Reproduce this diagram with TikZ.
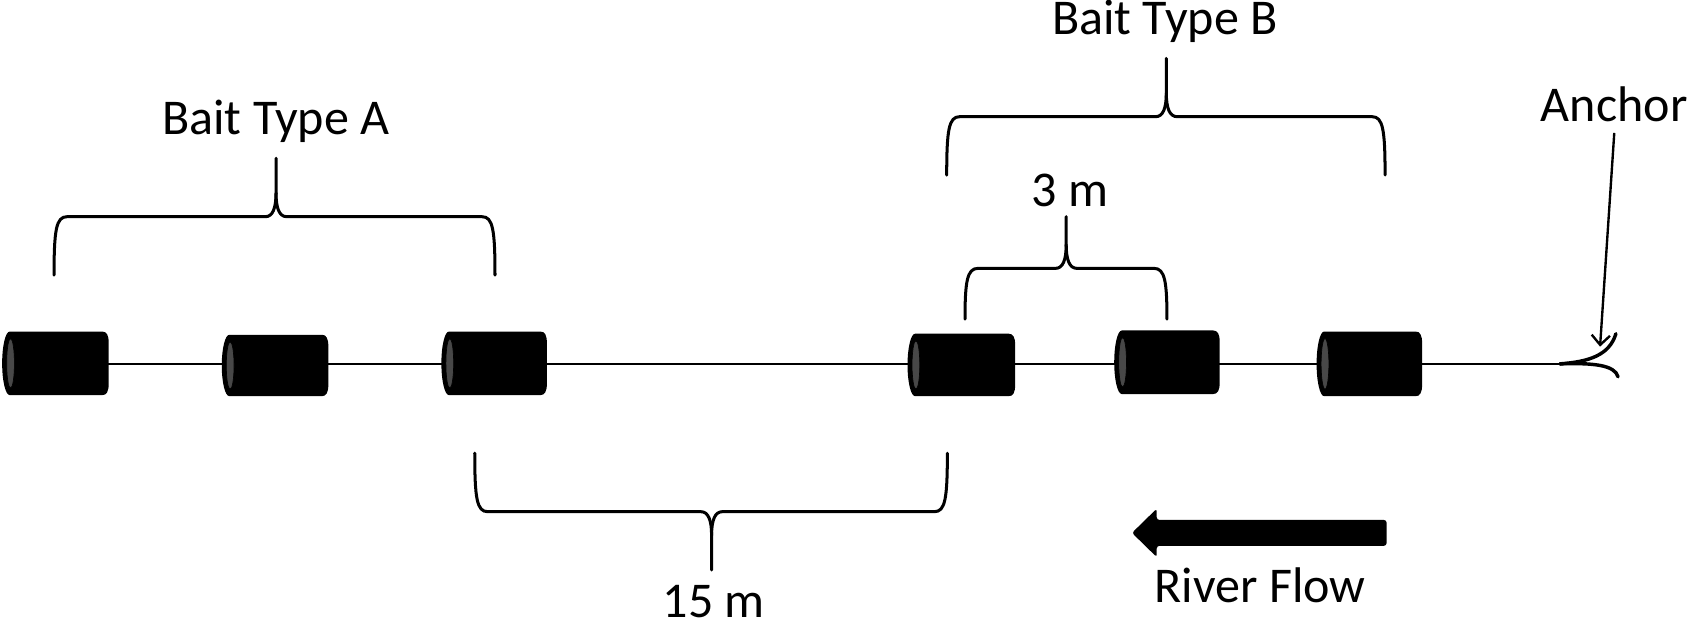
\documentclass[tikz,border=0pt]{standalone}
\usepackage{fontspec}
\setmainfont{Carlito}
\usetikzlibrary{arrows.meta}
\definecolor{cylgray}{RGB}{72,72,72}
% trap cylinder: x0 x1 y0 y1
\newcommand{\trapcyl}[4]{%
  \pgfmathsetmacro\cyym{(#3+#4)/2}%
  \pgfmathsetmacro\cyry{(#4-#3)/2}%
  \fill[black] ({#1+7},#3) -- ({#2-6},#3) .. controls ({#2-2},#3) and (#2,{#3+3}) .. (#2,{#3+11})
    -- (#2,{#4-11}) .. controls (#2,{#4-3}) and ({#2-2},#4) .. ({#2-6},#4) -- ({#1+7},#4)
    .. controls ({#1+3.1},#4) and (#1,{\cyym+0.55*\cyry}) .. (#1,\cyym)
    .. controls (#1,{\cyym-0.55*\cyry}) and ({#1+3.1},#3) .. ({#1+7},#3) -- cycle;
  \filldraw[fill=cylgray, draw=black, line width=0.6pt] ({#1+7.8},\cyym) ellipse [x radius=3.6, y radius={\cyry-6.5}];
}
% brace: xl xr xm yh yb yt s   (s=1 tip up, s=-1 tip down)
\newcommand{\mybrace}[7]{%
  \draw[bracestyle] (#1,#5) .. controls (#1,{#4+12*#7}) and ({#1+2},#4) .. ({#1+12},#4)
    -- ({#3-10},#4) .. controls ({#3-3},#4) and (#3,{#4-8*#7}) .. (#3,{#4-22*#7}) -- (#3,#6);
  \draw[bracestyle] (#2,#5) .. controls (#2,{#4+12*#7}) and ({#2-2},#4) .. ({#2-12},#4)
    -- ({#3+10},#4) .. controls ({#3+3},#4) and (#3,{#4-8*#7}) .. (#3,{#4-22*#7});
}
\tikzset{
  lbl/.style={font=\fontsize{46.5}{55}\selectfont, inner sep=0pt, anchor=base},
  bracestyle/.style={line width=2.8pt, line cap=round, line join=round},
  rope/.style={line width=2.2pt},
}
\begin{document}
\begin{tikzpicture}[x=1pt,y=-1pt]
\useasboundingbox (0,0) rectangle (1568,583.35);

% rope
\coordinate (ropeL) at (4,338);
\coordinate (ropeR) at (1449,338);
\draw[rope] (ropeL) -- (ropeR);

% traps
\trapcyl{2}{101}{308}{367}
\trapcyl{206}{305}{311}{368}
\trapcyl{410}{508}{308}{367}
\trapcyl{843}{943}{310}{368}
\trapcyl{1035}{1133}{307}{366}
\trapcyl{1223}{1321}{308}{368}

% anchor hook
\draw[line width=3.2pt, line cap=round] (ropeR) .. controls (1476,336) and (1495,330) .. (1501,310);
\draw[line width=3.2pt, line cap=round] (ropeR) .. controls (1480,337) and (1500,339) .. (1503,350);
\coordinate (hooktip) at (1486.3,322);

% braces
\mybrace{50.2}{459.8}{256.4}{201.3}{255.5}{147}{1}
\mybrace{879.4}{1286.6}{1083.4}{108.4}{162.6}{54.2}{1}
\mybrace{896.4}{1084}{990.4}{249.3}{296.5}{201.3}{1}
\mybrace{441}{880}{661}{475.3}{421}{529.5}{-1}

% labels
\node[lbl] (ta) at (256.2,124.5) {Bait Type A};
\node[lbl] (tb) at (1082,32.5) {Bait Type B};
\node[lbl] (t3) at (994,192) {3 m};
\node[lbl] (t15) at (663,574) {15 m};
\node[lbl] (tanc) at (1499.5,113) {Anchor};
\node[lbl] (triver) at (1170.5,560) {River Flow};

% anchor pointer
\draw[line width=2.2pt, -{Straight Barb[length=9pt,width=17pt]}] ([yshift=-10.5pt]tanc.base) -- (hooktip);

% river flow arrow
\fill[black, rounded corners=2.5pt] (1288,483) -- (1074.5,483) -- (1074.5,472.5) -- (1051.5,495) -- (1074.5,517.5) -- (1074.5,507) -- (1288,507) -- cycle;
\end{tikzpicture}
\end{document}
